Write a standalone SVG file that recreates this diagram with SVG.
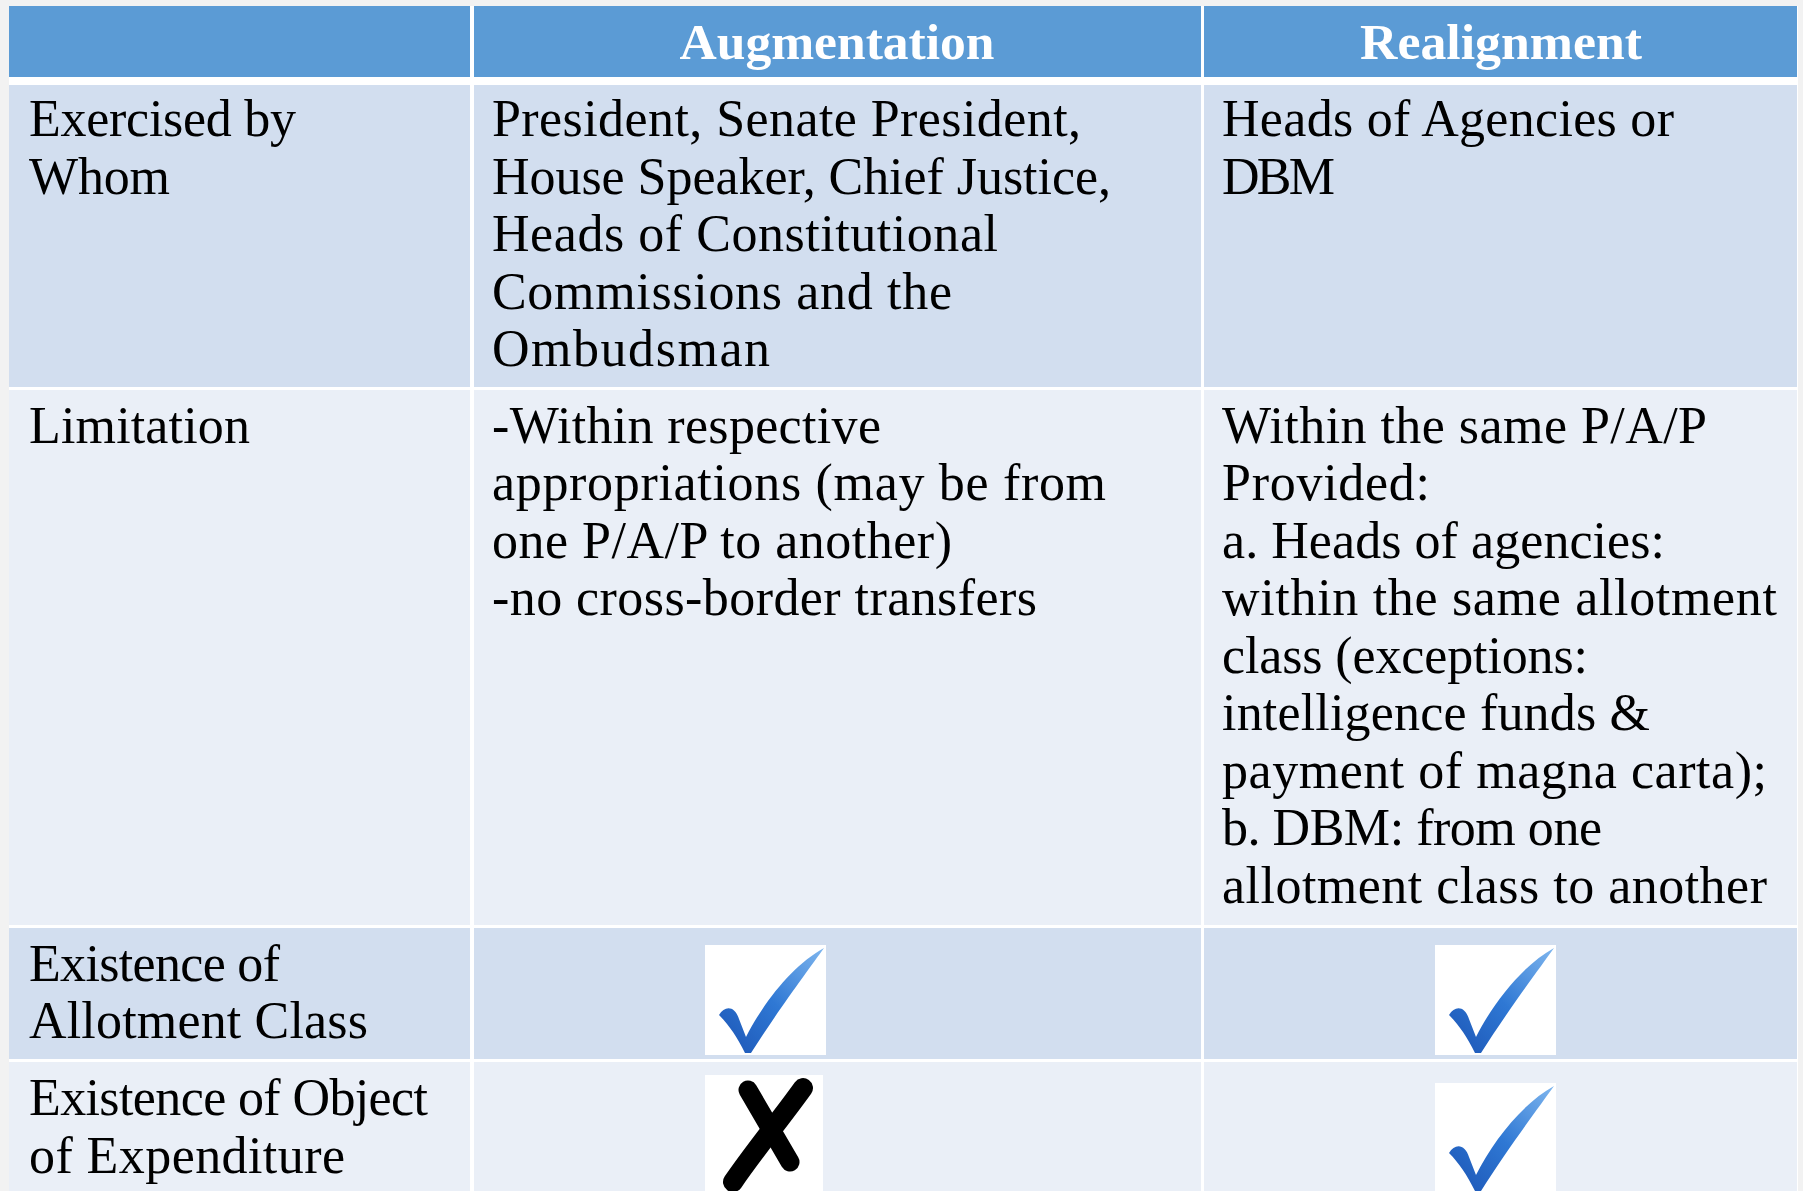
<svg xmlns="http://www.w3.org/2000/svg" width="1803" height="1191" viewBox="0 0 1803 1191">
<style>
.hd{fill:#5b9bd5}
.ro{fill:#d2deef}
.re{fill:#eaeff7}
.t{font-family:"Liberation Serif","Times New Roman",serif;font-size:52px;fill:#000}
.h{font-family:"Liberation Serif","Times New Roman",serif;font-size:50px;font-weight:bold;fill:#fff;text-anchor:middle}
.box{fill:#fff}
</style>
<defs>
<linearGradient id="chk" x1="0" y1="1" x2="1" y2="0">
<stop offset="0" stop-color="#1c55b5"/>
<stop offset="0.5" stop-color="#2f78d4"/>
<stop offset="1" stop-color="#7fb6ee"/>
</linearGradient>
<g id="check">
<rect class="box" x="0" y="0" width="121" height="110"/>
<path d="M14,70 C20,60 30,61 34,74 L41,92 C58,58 88,20 119,3 C104,24 74,64 46,108 L40,108 C32,92 24,80 14,70 Z" fill="url(#chk)"/>
</g>
</defs>
<rect x="0" y="0" width="1803" height="1191" fill="#f2f2f2"/>
<rect x="9" y="6" width="1789" height="1185" fill="#fff"/>

<g id="header">
<rect class="hd" x="9" y="6" width="461" height="71"/>
<rect class="hd" x="474" y="6" width="727" height="71"/>
<rect class="hd" x="1204" y="6" width="593" height="71"/>
<text class="h" x="837" y="59" textLength="315" lengthAdjust="spacingAndGlyphs">Augmentation</text>
<text class="h" x="1501" y="59" textLength="282" lengthAdjust="spacingAndGlyphs">Realignment</text>
</g>

<g id="row-exercised">
<rect class="ro" x="9" y="85" width="461" height="302"/>
<rect class="ro" x="474" y="85" width="727" height="302"/>
<rect class="ro" x="1204" y="85" width="593" height="302"/>
<text class="t" x="29" y="136" textLength="267">Exercised by</text>
<text class="t" x="29" y="194" textLength="141">Whom</text>
<text class="t" x="492" y="136" textLength="589">President, Senate President,</text>
<text class="t" x="492" y="194" textLength="619">House Speaker, Chief Justice,</text>
<text class="t" x="492" y="251" textLength="506">Heads of Constitutional</text>
<text class="t" x="492" y="309" textLength="460">Commissions and the</text>
<text class="t" x="492" y="366" textLength="278">Ombudsman</text>
<text class="t" x="1222" y="136" textLength="452">Heads of Agencies or</text>
<text class="t" x="1222" y="194" textLength="113">DBM</text>
</g>

<g id="row-limitation">
<rect class="re" x="9" y="390" width="461" height="535"/>
<rect class="re" x="474" y="390" width="727" height="535"/>
<rect class="re" x="1204" y="390" width="593" height="535"/>
<text class="t" x="29" y="443" textLength="221">Limitation</text>
<text class="t" x="492" y="443" textLength="389">-Within respective</text>
<text class="t" x="492" y="500" textLength="614">appropriations (may be from</text>
<text class="t" x="492" y="558" textLength="460">one P/A/P to another)</text>
<text class="t" x="492" y="615" textLength="545">-no cross-border transfers</text>
<text class="t" x="1222" y="443" textLength="485">Within the same P/A/P</text>
<text class="t" x="1222" y="500" textLength="208">Provided:</text>
<text class="t" x="1222" y="558" textLength="443">a. Heads of agencies:</text>
<text class="t" x="1222" y="615" textLength="555">within the same allotment</text>
<text class="t" x="1222" y="673" textLength="366">class (exceptions:</text>
<text class="t" x="1222" y="730" textLength="428">intelligence funds &amp;</text>
<text class="t" x="1222" y="788" textLength="545">payment of magna carta);</text>
<text class="t" x="1222" y="845" textLength="380">b. DBM: from one</text>
<text class="t" x="1222" y="903" textLength="545">allotment class to another</text>
</g>

<g id="row-allotment">
<rect class="ro" x="9" y="928" width="461" height="131"/>
<rect class="ro" x="474" y="928" width="727" height="131"/>
<rect class="ro" x="1204" y="928" width="593" height="131"/>
<text class="t" x="29" y="981" textLength="251">Existence of</text>
<text class="t" x="29" y="1038" textLength="339">Allotment Class</text>
<use href="#check" x="705" y="945"/>
<use href="#check" x="1435" y="945"/>
</g>

<g id="row-object">
<rect class="re" x="9" y="1062" width="461" height="129"/>
<rect class="re" x="474" y="1062" width="727" height="129"/>
<rect class="re" x="1204" y="1062" width="593" height="129"/>
<text class="t" x="29" y="1115" textLength="399">Existence of Object</text>
<text class="t" x="29" y="1173" textLength="316">of Expenditure</text>
<g id="cross">
<rect class="box" x="705" y="1075" width="118" height="116"/>
<path d="M748,1090 L790,1162" stroke="#000" stroke-width="19" stroke-linecap="round" fill="none"/>
<path d="M803,1088 C780,1120 755,1150 733,1182" stroke="#000" stroke-width="20" stroke-linecap="round" fill="none"/>
</g>
<use href="#check" x="1435" y="1083"/>
</g>
</svg>
